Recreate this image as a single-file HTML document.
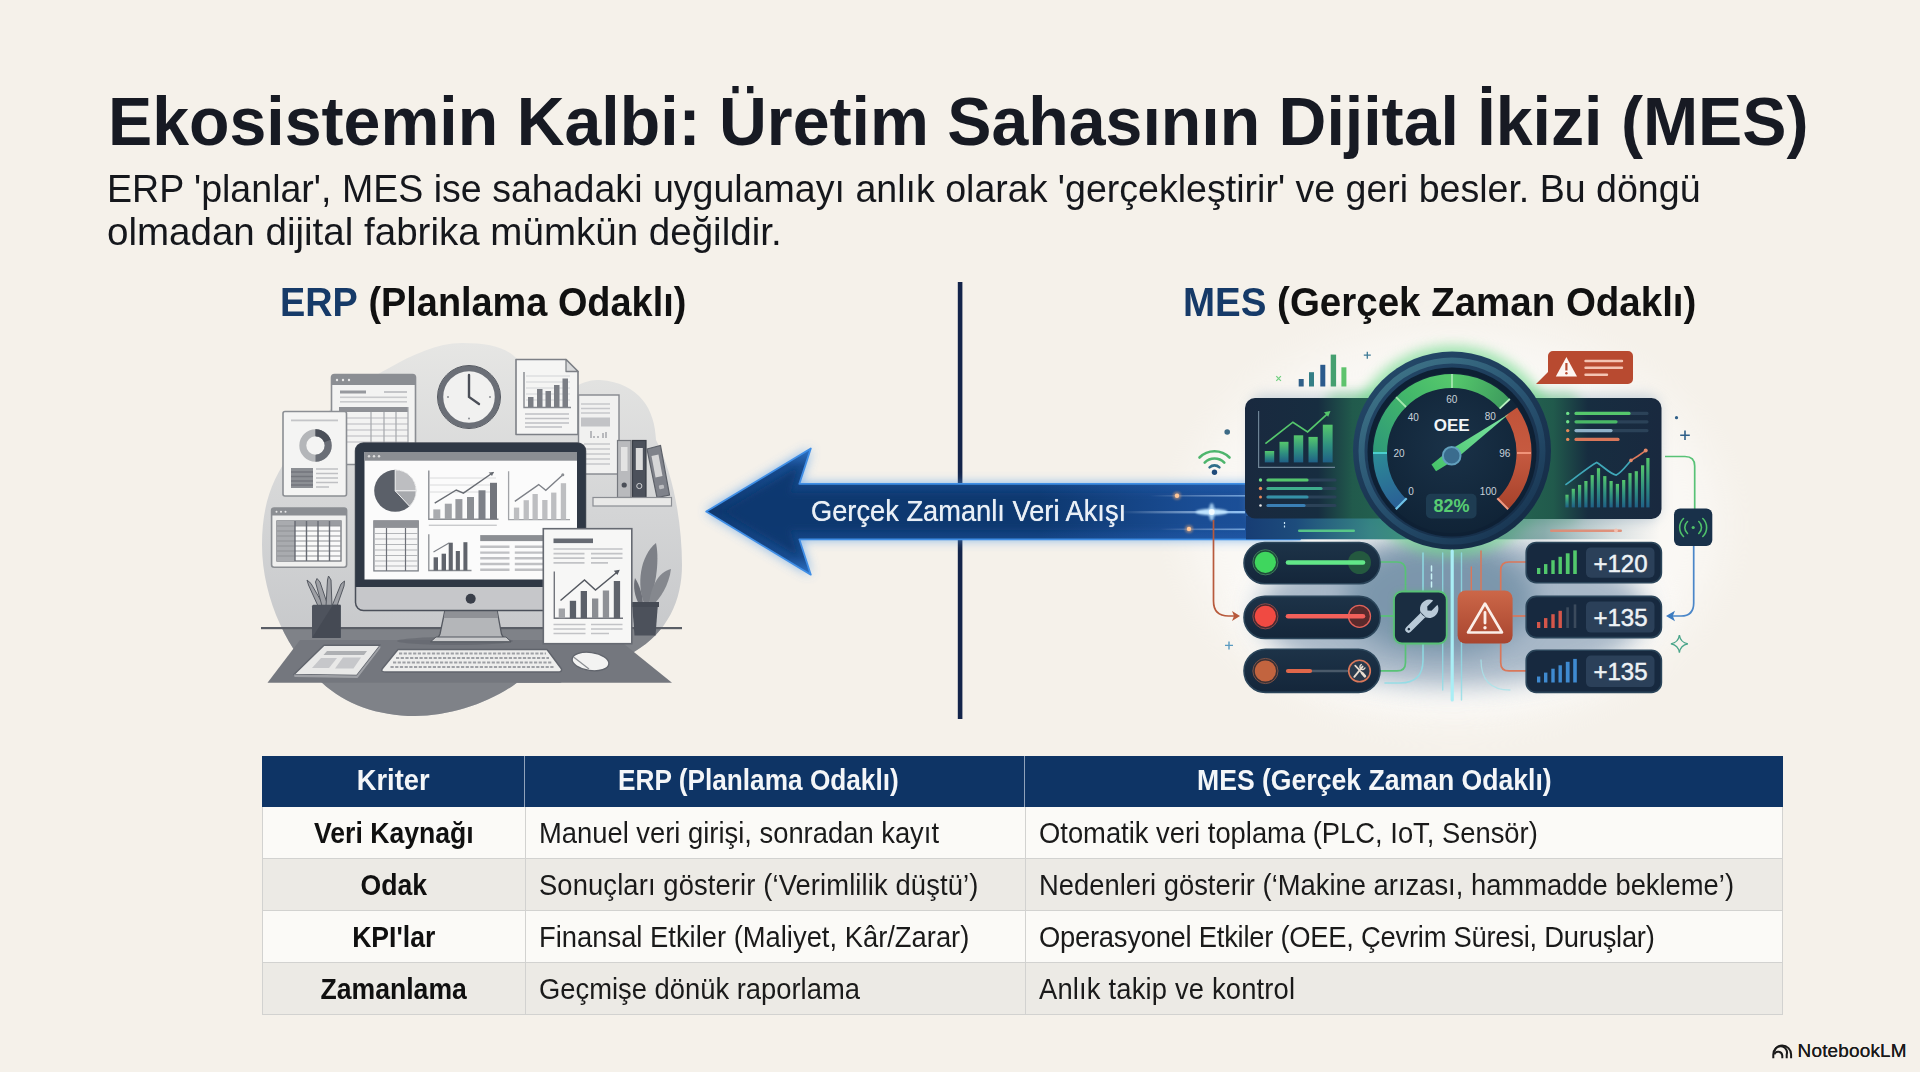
<!DOCTYPE html>
<html lang="tr">
<head>
<meta charset="utf-8">
<title>Ekosistemin Kalbi: Üretim Sahasının Dijital İkizi (MES)</title>
<style>
  html, body { margin: 0; padding: 0; }
  body {
    width: 1920px; height: 1072px; overflow: hidden; position: relative;
    background: #f5f1ea;
    font-family: "Liberation Sans", sans-serif;
    color: #14171f;
  }
  .abs { position: absolute; white-space: nowrap; transform-origin: 0 0; line-height: 1; }
  #title { left: 107.6px; top: 86.6px; font-size: 69px; font-weight: bold; color: #171a23; transform: scaleX(0.960); }
  #sub1, #sub2 { left: 107.2px; font-size: 38.2px; color: #15171c; transform: scaleX(0.9834); }
  #sub1 { top: 170.3px; }
  #sub2 { top: 213.3px; transform: scaleX(1.009); }
  .h2 { font-size: 40.7px; font-weight: bold; color: #111; top: 282px; transform: scaleX(0.931); }
  .h2 b { color: #163a68; }
  #h2a { left: 279.5px; }
  #h2b { left: 1183px; transform: scaleX(0.946); }
  #art { position: absolute; left: 0; top: 0; width: 1920px; height: 1072px; }
  #arrowtxt { left: 810.5px; top: 497.3px; font-size: 29px; color: #e9eff6; transform: scaleX(0.94); text-shadow: 0 0 0.7px #e9eff6; }

  #tbl { position: absolute; left: 262px; top: 756px; width: 1521px; height: 259px; }
  .row { position: absolute; left: 0; width: 1521px; box-sizing: border-box; border-bottom: 1.5px solid #d2d2d0; border-left: 1.5px solid #d2d2d0; border-right: 1.5px solid #d2d2d0; }
  .row.hd { top: 0; height: 51px; background: #0e3465; border: none; }
  .r1 { top: 51px; height: 52px; background: #fbfaf7; }
  .r2 { top: 103px; height: 52px; background: #eceae5; }
  .r3 { top: 155px; height: 52px; background: #fbfaf7; }
  .r4 { top: 207px; height: 52px; background: #eceae5; }
  .cell { position: absolute; top: 0; height: 100%; box-sizing: border-box; display: flex; align-items: center; white-space: nowrap; }
  .c1 { left: 0; width: 263px; justify-content: center; font-weight: bold; font-size: 28.6px; color: #101010; border-right: 1.5px solid #d2d2d0; }
  .c2 { left: 263px; width: 500px; padding-left: 13px; font-size: 28.6px; color: #1a1a1a; border-right: 1.5px solid #d2d2d0; }
  .c3 { left: 763px; width: 758px; padding-left: 13px; font-size: 28.6px; color: #1a1a1a; }
  .hd .cell { color: #f4f6f8; font-weight: bold; font-size: 28.6px; justify-content: center; padding-left: 0; border-right-color: #8fa2bb; }
  .hd .cell span { top: -1px; }
  .hd .c2 { justify-content: flex-start; padding-left: 93px; }
  .hd .c2 span, .hd .c3 span { transform-origin: 0 50%; }
  .c1 span, .hd .cell span { transform: scaleX(0.93); }
  .hd .c1 span { transform: scaleX(0.955); }
  .hd .c2 span { transform: scaleX(0.917); }
  .r1 .c2 span, .r2 .c2 span, .r3 .c2 span, .r4 .c2 span, .r1 .c3 span, .r2 .c3 span, .r3 .c3 span, .r4 .c3 span { transform: scaleX(0.957); transform-origin: 0 50%; }
  .hd .c3 { justify-content: flex-start; padding-left: 172px; }
  .cell span { display: inline-block; position: relative; top: 1px; }
  #nblm { left: 1797.6px; top: 1041.8px; font-size: 18.9px; color: #1a1a1a; letter-spacing: 0.2px; text-shadow: 0 0 0.6px #1a1a1a; }
</style>
</head>
<body>

<svg id="art" viewBox="0 0 1920 1072" width="1920" height="1072">
  <defs>
    <linearGradient id="shaftG" x1="0" y1="0" x2="0" y2="1">
      <stop offset="0" stop-color="#2f74c8"/>
      <stop offset="0.14" stop-color="#184c8f"/>
      <stop offset="0.5" stop-color="#0f3970"/>
      <stop offset="0.86" stop-color="#184c8f"/>
      <stop offset="1" stop-color="#2f74c8"/>
    </linearGradient>
    <filter id="blur3" x="-20%" y="-20%" width="140%" height="140%"><feGaussianBlur stdDeviation="3"/></filter>
    <filter id="blur6" x="-30%" y="-30%" width="160%" height="160%"><feGaussianBlur stdDeviation="6"/></filter>
    <filter id="blur20" x="-40%" y="-40%" width="180%" height="180%"><feGaussianBlur stdDeviation="22"/></filter>
    <filter id="blur12" x="-40%" y="-40%" width="180%" height="180%"><feGaussianBlur stdDeviation="12"/></filter>
    <filter id="blur1" x="-20%" y="-20%" width="140%" height="140%"><feGaussianBlur stdDeviation="1"/></filter>
  </defs>

  <!-- vertical divider -->
  <rect x="957.8" y="282" width="4.6" height="437" fill="#13244a"/>

  <!--ERP-START-->
  <g id="erp">
    <defs>
      <linearGradient id="blobG" x1="0" y1="0" x2="0" y2="1">
        <stop offset="0" stop-color="#e6e6e4"/>
        <stop offset="0.45" stop-color="#d4d5d6"/>
        <stop offset="1" stop-color="#bfc1c4"/>
      </linearGradient>
      <clipPath id="blobClip">
        <path d="M462 343 C490 343 508 348 518 360 L577 386 C585 381 592 380 600 380 C640 383 655 410 656 440 C672 470 682 520 682 565 C682 600 668 632 634 652 L560 682.7 L517 682.7 C490 703 450 716 415 716 C378 716 345 704 322 682.7 C290 655 262 600 262 545 C262 505 272 478 292 452 C315 420 352 387 389 368 C412 355 437 343 462 343 Z"/>
      </clipPath>
    </defs>
    <!-- blob -->
    <path d="M462 343 C490 343 508 348 518 360 L577 386 C585 381 592 380 600 380 C640 383 655 410 656 440 C672 470 682 520 682 565 C682 600 668 632 634 652 L560 682.7 L517 682.7 C490 703 450 716 415 716 C378 716 345 704 322 682.7 C290 655 262 600 262 545 C262 505 272 478 292 452 C315 420 352 387 389 368 C412 355 437 343 462 343 Z" fill="url(#blobG)"/>
    <g clip-path="url(#blobClip)">
      <rect x="250" y="628" width="450" height="100" fill="#7f8288"/>
    </g>
    <!-- desk -->
    <path d="M300 640 L619 640 L672 682.7 L267.5 682.7 Z" fill="#74777e"/>
    <rect x="261" y="627" width="421" height="2.2" fill="#5a5e66"/>

    <!-- browser window (back) -->
    <rect x="331.5" y="374.5" width="84" height="90" rx="3" fill="#f3f3f2" stroke="#8b8e93" stroke-width="1.6"/>
    <path d="M331.5 385 V377.5 a3 3 0 0 1 3 -3 H412.5 a3 3 0 0 1 3 3 V385 Z" fill="#8b8e93"/>
    <circle cx="337" cy="380" r="1.2" fill="#e8e8e8"/><circle cx="343" cy="380" r="1.2" fill="#e8e8e8"/><circle cx="349" cy="380" r="1.2" fill="#e8e8e8"/>
    <rect x="340" y="390.5" width="26" height="3" fill="#97999e"/>
    <rect x="384" y="391" width="23" height="2" fill="#c4c5c8"/>
    <rect x="340" y="396.5" width="67" height="1.6" fill="#c9cacc"/>
    <rect x="340" y="401" width="67" height="1.6" fill="#c9cacc"/>
    <rect x="339" y="407" width="69" height="5" fill="#8f9196"/>
    <g stroke="#b9babd" stroke-width="1.2">
      <path d="M339 418H408M339 424H408M339 430H408M339 436H408M339 442H408"/>
      <path d="M371 412V445M384 412V445M396 412V445M408 407V445" stroke="#a6a8ac"/>
    </g>

    <!-- donut doc -->
    <rect x="283" y="411.5" width="63.5" height="84.5" rx="2" fill="#f4f4f3" stroke="#8b8e93" stroke-width="1.6"/>
    <rect x="291" y="419.5" width="47" height="1.8" fill="#c4c5c8"/>
    <circle cx="315.5" cy="445.5" r="12.7" fill="none" stroke="#b4b6b9" stroke-width="7"/>
    <path d="M315.5 432.8 A12.7 12.7 0 0 1 315.5 458.2" fill="none" stroke="#6a6e76" stroke-width="7"/>
    <path d="M315.5 432.8 A12.7 12.7 0 0 1 327.4 441" fill="none" stroke="#4a4f58" stroke-width="7"/>
    <rect x="291" y="468" width="22" height="20" fill="#8c8f94"/>
    <g stroke="#a9abaf" stroke-width="1.3"><path d="M291 472H313M291 476.5H313M291 481H313M291 485H313" stroke="#73767c"/></g>
    <g stroke="#bfc0c3" stroke-width="1.7"><path d="M316 469H338M316 473.5H338M316 478H338M316 482.5H338M316 487H329"/></g>

    <!-- clock -->
    <circle cx="469" cy="397" r="31" fill="#d0d1d3" opacity="0.6"/>
    <circle cx="469" cy="397" r="28.5" fill="#f1f1f0" stroke="#6b6f77" stroke-width="5.5"/>
    <circle cx="469" cy="397" r="31.5" fill="none" stroke="#555961" stroke-width="1"/>
    <path d="M469 375 V397 L479 404" fill="none" stroke="#4b4f58" stroke-width="2.4" stroke-linecap="round"/>
    <g fill="#8b8e93"><circle cx="469" cy="418.5" r="1"/><circle cx="448" cy="397" r="1"/><circle cx="490" cy="397" r="1"/></g>

    <!-- bar chart doc -->
    <path d="M516 359.5 H566 L578 371.5 V434.5 H516 Z" fill="#f5f5f4" stroke="#7d8086" stroke-width="1.6" stroke-linejoin="round"/>
    <path d="M566 359.5 V371.5 H578 Z" fill="#d8d9da" stroke="#7d8086" stroke-width="1.3" stroke-linejoin="round"/>
    <g stroke="#d2d3d5" stroke-width="1.2"><path d="M526 376H570M526 382H570M526 388H570M526 394H570M526 400H570"/></g>
    <path d="M524 372V407.5H571" fill="none" stroke="#85888e" stroke-width="1.4"/>
    <g fill="#7b7e85">
      <rect x="528" y="397" width="5.5" height="10"/><rect x="537" y="389" width="5.5" height="18"/>
      <rect x="545.5" y="391" width="5.5" height="16"/><rect x="554" y="385" width="5.5" height="22"/>
      <rect x="562.5" y="378.5" width="5.5" height="28.5"/>
    </g>
    <g stroke="#bfc0c3" stroke-width="1.6"><path d="M525 414H569M525 418.5H569M525 423H569M525 427H562"/></g>

    <!-- doc behind -->
    <rect x="578.5" y="395" width="40.5" height="79" fill="#f1f1f0" stroke="#85888e" stroke-width="1.4"/>
    <g stroke="#c6c7ca" stroke-width="1.5"><path d="M581 404H610M581 408.5H610M581 413H610"/></g>
    <rect x="581" y="417.5" width="29" height="9" fill="#c2c3c6"/>
    <g stroke="#9a9ca1" stroke-width="1.3"><path d="M591 431v7M594 436v2M598 436v2M603 433v5M606 432v6"/></g>
    <g stroke="#c6c7ca" stroke-width="1.5"><path d="M584 444H610M584 449H610M584 454H610M584 459H610M584 464H610"/></g>

    <!-- shelf and binders -->
    <rect x="617.5" y="440.5" width="13.5" height="57" fill="#b9babd" stroke="#75787e" stroke-width="1.2"/>
    <rect x="621" y="447" width="6.5" height="24" fill="#e3e3e3"/>
    <circle cx="624.2" cy="485" r="2.6" fill="#4a4e57"/>
    <rect x="632.5" y="440.5" width="13.5" height="57" fill="#4c515b" stroke="#3a3e47" stroke-width="1.2"/>
    <rect x="635.8" y="448" width="7" height="22" fill="#dcdcdc"/>
    <circle cx="639.3" cy="486" r="2.6" fill="none" stroke="#cfd0d2" stroke-width="1"/>
    <path d="M647 449 L660.5 445.5 L669.5 495 L657 497.5 Z" fill="#7f828a" stroke="#5c6068" stroke-width="1.2"/>
    <path d="M651.5 456 L658.5 454.5 L662.5 476 L655.5 477.5 Z" fill="#d6d6d7"/>
    <rect x="659" y="485" width="5" height="4" rx="1" fill="#bcbdc0" transform="rotate(-10 661 487)"/>
    <rect x="593" y="497.5" width="78.5" height="8.5" fill="#e9e9e8" stroke="#8b8e93" stroke-width="1.2"/>

    <!-- spreadsheet window left -->
    <rect x="271.6" y="508" width="75" height="59.3" rx="2.5" fill="#f0f0ef" stroke="#8b8e93" stroke-width="1.6"/>
    <path d="M271.6 515.5 V510.5 a2.5 2.5 0 0 1 2.5 -2.5 H344.1 a2.5 2.5 0 0 1 2.5 2.5 V515.5 Z" fill="#8b8e93"/>
    <circle cx="276.5" cy="511.8" r="1" fill="#e8e8e8"/><circle cx="281" cy="511.8" r="1" fill="#e8e8e8"/><circle cx="285.5" cy="511.8" r="1" fill="#e8e8e8"/>
    <rect x="277" y="521" width="64" height="40" fill="#fafafa" stroke="#75787e" stroke-width="1.3"/>
    <rect x="277" y="521" width="18" height="40" fill="#a9abaf"/>
    <rect x="295" y="521" width="46" height="5" fill="#9a9ca1"/>
    <g stroke="#8f9196" stroke-width="1.1">
      <path d="M277 526H341M277 531H341M277 536H341M277 541H341M277 546H341M277 551H341M277 556H341"/>
      <path d="M295 521V561M306.5 521V561M318 521V561M329.5 521V561" stroke="#666a72" stroke-width="1.4"/>
    </g>

    <!-- pencil cup -->
    <g stroke="#555961" stroke-width="1" fill="#9ea0a5">
      <path d="M318 606 L308.5 585 L307 580 L311 583.5 L324 606 Z"/>
      <path d="M322 606 L315.5 582 L317 578.5 L320 582 L328 606 Z"/>
      <path d="M326 606 L327.5 580 L328.5 576 L331 580 L332 606 Z"/>
      <path d="M332 606 L341 584 L344.5 581 L344 586 L337 606 Z"/>
    </g>
    <rect x="312" y="604.7" width="28.7" height="33.3" rx="1.5" fill="#4e535d"/>
    <path d="M312 638 L333 604.7 H340.7 V638 Z" fill="#454a54"/>

    <!-- monitor -->
    <path d="M445 610 L440 634 Q438 640 430.7 641.7 H511 Q503.5 640 501.5 634 L497 610 Z" fill="#b4b6b9" stroke="#555961" stroke-width="1.3"/>
    <path d="M445 611 H497 L498 618 H443.7 Z" fill="#8f9196"/>
    <ellipse cx="455" cy="641" rx="58" ry="4" fill="#5f636a" opacity="0.55"/>
    <path d="M430.7 641.7 H511 L506 637 H436 Z" fill="#c9cacc" stroke="#555961" stroke-width="1"/>
    <rect x="355.5" y="443" width="230" height="167.5" rx="8" fill="#c6c7ca" stroke="#4a4f59" stroke-width="1.5"/>
    <path d="M355.5 587 V451 a8 8 0 0 1 8 -8 H577.5 a8 8 0 0 1 8 8 V587 Z" fill="#2f3845"/>
    <rect x="364.5" y="452" width="212.5" height="127.5" fill="#fbfbfb"/>
    <rect x="364.5" y="452" width="212.5" height="8.7" fill="#8b8e93"/>
    <circle cx="369" cy="456.3" r="1.2" fill="#dedede"/><circle cx="374" cy="456.3" r="1.2" fill="#dedede"/><circle cx="379" cy="456.3" r="1.2" fill="#dedede"/>
    <circle cx="470.7" cy="598.7" r="5" fill="#3a3f4a"/>

    <!-- pie -->
    <circle cx="395.2" cy="490.8" r="21" fill="#5b6069"/>
    <path d="M395.2 490.8 V469.8 A21 21 0 0 1 416.2 490.8 Z" fill="#bdbec1" stroke="#f2f2f2" stroke-width="1"/>
    <path d="M395.2 490.8 H416.2 A21 21 0 0 1 409.5 506.2 Z" fill="#a7a9ad" stroke="#f2f2f2" stroke-width="1"/>

    <!-- chart 1 -->
    <g stroke="#dadbdc" stroke-width="1"><path d="M430 478H496M430 485H496M430 492H496"/></g>
    <path d="M428.8 470.4 V519.2 H498.5" fill="none" stroke="#8b8e93" stroke-width="1.4"/>
    <rect x="433.3" y="509.4" width="7" height="9.8" fill="#a9abaf"/>
    <rect x="444.8" y="503.7" width="7" height="15.5" fill="#a1a3a7"/>
    <rect x="455.4" y="499.1" width="7" height="20.1" fill="#97999e"/>
    <rect x="467" y="497" width="7" height="22.2" fill="#8b8e93"/>
    <rect x="478.5" y="490.3" width="7" height="28.9" fill="#7d8087"/>
    <rect x="490" y="482.8" width="7" height="36.4" fill="#72757c"/>
    <path d="M434.7 503.2 L456.3 490 L463.4 493.1 L493.5 472.2" fill="none" stroke="#686c73" stroke-width="1.4"/>
    <path d="M493.9 471.9 l-5.2 0.6 l3.3 3.6 Z" fill="#686c73"/>
    <rect x="428.8" y="524.6" width="68" height="1.4" fill="#c9cacc"/>

    <!-- chart 2 -->
    <path d="M508.6 471.3 V519.7 H570" fill="none" stroke="#a1a3a7" stroke-width="1.3"/>
    <g fill="#bdbec1">
      <rect x="513.9" y="507.6" width="5.3" height="12"/><rect x="523.6" y="500.2" width="5.3" height="19.4"/>
      <rect x="532.5" y="494" width="5.3" height="25.6"/><rect x="542.2" y="500" width="5.3" height="19.6"/>
      <rect x="551.1" y="492.6" width="5.3" height="27"/><rect x="560.8" y="483.2" width="5.3" height="36.4"/>
    </g>
    <path d="M514.8 501.4 L538.7 484.6 L545.8 490.3 L562.6 474.9" fill="none" stroke="#7d8087" stroke-width="1.3"/>
    <circle cx="562.8" cy="474.7" r="1.5" fill="#8b8e93"/>

    <!-- small table -->
    <rect x="373.9" y="520.9" width="44.3" height="50" fill="#f6f6f6" stroke="#7d8087" stroke-width="1.3"/>
    <rect x="373.9" y="520.9" width="44.3" height="7" fill="#8f9196"/>
    <g stroke="#b4b6b9" stroke-width="1"><path d="M374 533.5H418M374 539H418M374 544.5H418M374 550H418M374 555.5H418M374 561H418M374 566H418"/></g>
    <g stroke="#6d7078" stroke-width="1.2"><path d="M386.5 528V571M405.5 528V571"/></g>

    <!-- chart 3 -->
    <path d="M428.8 534.2 V570.5 H471.5" fill="none" stroke="#8b8e93" stroke-width="1.3"/>
    <g fill="#60646c">
      <rect x="433.6" y="557.3" width="4.4" height="13.2"/><rect x="441.6" y="553.7" width="4.4" height="16.8"/>
      <rect x="448.7" y="542.7" width="4.1" height="27.8"/><rect x="455.8" y="551" width="4.1" height="19.5"/>
      <rect x="463.4" y="542.2" width="4" height="28.3"/>
    </g>
    <path d="M433.5 552 L449 543" fill="none" stroke="#7d8087" stroke-width="1.2"/>

    <!-- text block -->
    <rect x="480.2" y="535.1" width="63" height="6" fill="#8b8e93"/>
    <g stroke="#bfc0c3" stroke-width="2.4">
      <path d="M480.2 546.8H509.5M480.2 552.6H509.5M480.2 558.2H509.5M480.2 564H509.5M480.2 569.7H509.5"/>
      <path d="M514.8 546.8H543M514.8 552.6H543M514.8 558.2H543M514.8 564H543M514.8 569.7H543"/>
    </g>

    <!-- plant -->
    <path d="M645 606 C636 585 640 556 656 543 C660 562 655 590 648 606 Z" fill="#7d8087"/>
    <path d="M649 606 C650 588 658 572 671 569 C669 585 660 599 652 606 Z" fill="#85888e"/>
    <path d="M640 606 C634 596 633 586 635 578 C640 586 643 596 643 606 Z" fill="#6d7078"/>
    <path d="M632 603 H658 L655.5 635.5 H634.5 Z" fill="#4c515b"/>
    <rect x="631" y="602" width="28" height="5" fill="#454a54"/>

    <!-- front document -->
    <rect x="543.3" y="528.7" width="88.5" height="115" fill="#f7f7f6" stroke="#666a72" stroke-width="1.6"/>
    <rect x="553.5" y="538.5" width="39.5" height="4.6" fill="#666a72"/>
    <g stroke="#c2c3c6" stroke-width="1.7">
      <path d="M553.5 549H622.5M553.5 553.6H584.5M553.5 558.2H584.5M553.5 562.8H584.5M591 553.6H622.5M591 558.2H622.5M591 562.8H608"/>
      <path d="M553.5 624.5H585.5M553.5 629H585.5M553.5 633.5H585.5M591 624.5H622.5M591 629H622.5M591 633.5H609"/>
    </g>
    <path d="M554.3 571.5 V618.3 H623" fill="none" stroke="#72757c" stroke-width="1.4"/>
    <rect x="558.7" y="608.5" width="6.3" height="9.8" fill="#a1a3a7"/>
    <rect x="569.8" y="600.8" width="6.3" height="17.5" fill="#5b6069"/>
    <rect x="580.7" y="591" width="6.3" height="27.3" fill="#5b6069"/>
    <rect x="592" y="598.5" width="6.3" height="19.8" fill="#8b8e93"/>
    <rect x="602.8" y="590.5" width="6.3" height="27.8" fill="#8f9196"/>
    <rect x="613.8" y="581" width="6.3" height="37.3" fill="#60646c"/>
    <path d="M560.5 600.5 L584.5 580 L595.5 590 L618.5 571" fill="none" stroke="#555961" stroke-width="1.5"/>
    <path d="M619.8 569.8 l-6 1 l3.6 4.2 Z" fill="#555961"/>

    <!-- tablet -->
    <path d="M324 645.3 H380.4 L356.8 675.5 L294 674.5 Z" fill="#e9e9e8" stroke="#60646c" stroke-width="1.4" stroke-linejoin="round"/>
    <path d="M294 674.5 L356.8 675.5 L380.4 645.3 L380.4 648 L357.5 678 L294.5 677 Z" fill="#9ea0a5"/>
    <path d="M327 651 H367 L364 655 H323.5 Z" fill="#aeb0b3"/>
    <path d="M321 658 H337 L329 668 H312 Z" fill="#c6c7ca"/>
    <path d="M343 657.5 H361 L353.5 668.5 H335 Z" fill="#c6c7ca"/>

    <!-- keyboard -->
    <path d="M398 649.5 H547 L561.5 669 Q562 672 558 672 H386 Q380 672 382.5 668.5 Z" fill="#eeeeed" stroke="#60646c" stroke-width="1.4" stroke-linejoin="round"/>
    <g stroke="#9ea0a5" stroke-width="2.2" stroke-dasharray="3.2 1.5">
      <path d="M399 653.5H546M396 658H549M393 662.5H552M390.5 667H555"/>
    </g>

    <!-- mouse -->
    <ellipse cx="590.5" cy="661.5" rx="18.5" ry="9" fill="#f3f3f2" stroke="#60646c" stroke-width="1.3" transform="rotate(8 590.5 661.5)"/>
    <path d="M573.5 657 Q580 662 589 669" fill="none" stroke="#8b8e93" stroke-width="1.2"/>
  </g>
  <!--ERP-END-->
  <!-- soft white halo behind MES -->
  <ellipse cx="1455" cy="525" rx="265" ry="195" fill="#ffffff" opacity="0.5" filter="url(#blur20)"/>
  <ellipse cx="1452" cy="610" rx="215" ry="100" fill="#ffffff" opacity="0.4" filter="url(#blur12)"/>
  <!-- arrow -->
  <g id="arrow">
    <defs>
      <linearGradient id="brightR" x1="0" y1="0" x2="1" y2="0">
        <stop offset="0" stop-color="#2f6fd0" stop-opacity="0"/><stop offset="0.6" stop-color="#2f6fd0" stop-opacity="0.38"/><stop offset="1" stop-color="#2f6fd0" stop-opacity="0.45"/>
      </linearGradient>
      <linearGradient id="fadeR" x1="0" y1="0" x2="1" y2="0">
        <stop offset="0" stop-color="#fff" stop-opacity="0"/><stop offset="1" stop-color="#9fd0ff" stop-opacity="0.9"/>
      </linearGradient>
    </defs>
    <path d="M706.2 511.6 L810.8 448.5 L799.3 483.9 L1300 483.9 L1300 539.3 L799.3 539.3 L810.8 574.7 Z" fill="#5a9fe8" opacity="0.8" filter="url(#blur6)"/>
    <path d="M706.2 511.6 L810.8 448.5 L799.3 483.9 L1300 483.9 L1300 539.3 L799.3 539.3 L810.8 574.7 Z" fill="url(#shaftG)" stroke="#3f8ee6" stroke-width="1.8" stroke-linejoin="round"/>
    <path d="M724 511.6 L798 467 L790 493 L1300 493 L1300 530 L790 530 L798 556 Z" fill="#0f386f" opacity="0.9" filter="url(#blur3)"/>
    <rect x="1040" y="485" width="260" height="53.4" fill="url(#brightR)"/>
    <!-- streaks -->
    <rect x="1150" y="495" width="95" height="1.6" fill="url(#fadeR)" opacity="0.7"/>
    <rect x="1120" y="511" width="125" height="2.4" fill="url(#fadeR)"/>
    <rect x="1160" y="528.5" width="85" height="1.6" fill="url(#fadeR)" opacity="0.7"/>
    <ellipse cx="1211.7" cy="512" rx="16" ry="3.2" fill="#bfe4ff" filter="url(#blur1)"/>
    <ellipse cx="1211.7" cy="512" rx="3" ry="9" fill="#bfe4ff" opacity="0.8" filter="url(#blur1)"/>
    <circle cx="1211.7" cy="512" r="3" fill="#f2fbff"/>
    <circle cx="1177" cy="495.8" r="2.2" fill="#ffd9b8"/><circle cx="1177" cy="495.8" r="4" fill="#ffb070" opacity="0.45" filter="url(#blur1)"/>
    <circle cx="1189" cy="529" r="2.2" fill="#ffd9b8"/><circle cx="1189" cy="529" r="4" fill="#ffb070" opacity="0.45" filter="url(#blur1)"/>
  </g>
  <!--MES-START-->
  <g id="mes">
    <defs>
      <linearGradient id="panelL" x1="0" y1="0" x2="1" y2="0">
        <stop offset="0" stop-color="#19293f"/><stop offset="0.34" stop-color="#172d40"/><stop offset="0.5" stop-color="#215a4c"/><stop offset="1" stop-color="#2a7358"/>
      </linearGradient>
      <linearGradient id="panelR" x1="1" y1="0" x2="0" y2="0">
        <stop offset="0" stop-color="#19293f"/><stop offset="0.34" stop-color="#172d40"/><stop offset="0.5" stop-color="#215a4c"/><stop offset="1" stop-color="#2a7358"/>
      </linearGradient>
      <linearGradient id="gb" x1="0" y1="0" x2="0" y2="1">
        <stop offset="0" stop-color="#55c76c"/><stop offset="0.55" stop-color="#2f8f80"/><stop offset="1" stop-color="#1f5f86"/>
      </linearGradient>
      <linearGradient id="ringG" x1="0.2" y1="0" x2="0.8" y2="1">
        <stop offset="0" stop-color="#24496a"/><stop offset="0.5" stop-color="#1b3754"/><stop offset="1" stop-color="#142b45"/>
      </linearGradient>
      <radialGradient id="dialG" cx="0.5" cy="0.45" r="0.6">
        <stop offset="0" stop-color="#1a3248"/><stop offset="1" stop-color="#0f2235"/>
      </radialGradient>
      <linearGradient id="ringHi" x1="0.15" y1="0" x2="0.85" y2="1">
        <stop offset="0" stop-color="#3f7588"/><stop offset="0.45" stop-color="#2a5573"/><stop offset="1" stop-color="#173350"/>
      </linearGradient>
      <linearGradient id="blueArc" gradientUnits="userSpaceOnUse" x1="1400" y1="506" x2="1380" y2="453">
        <stop offset="0" stop-color="#2a5f96"/><stop offset="1" stop-color="#2c8a96"/>
      </linearGradient>
      <linearGradient id="greenArcL" gradientUnits="userSpaceOnUse" x1="1380" y1="453" x2="1452" y2="381">
        <stop offset="0" stop-color="#2f9a78"/><stop offset="0.6" stop-color="#43b76a"/><stop offset="1" stop-color="#55c86c"/>
      </linearGradient>
      <linearGradient id="greenArcR" gradientUnits="userSpaceOnUse" x1="1452" y1="381" x2="1503" y2="402">
        <stop offset="0" stop-color="#55c86c"/><stop offset="1" stop-color="#3f9e5e"/>
      </linearGradient>
      <linearGradient id="redArc" gradientUnits="userSpaceOnUse" x1="1515" y1="400" x2="1515" y2="506">
        <stop offset="0" stop-color="#c05238"/><stop offset="0.5" stop-color="#c65a40"/><stop offset="1" stop-color="#a8432c"/>
      </linearGradient>
      <linearGradient id="needleG" gradientUnits="userSpaceOnUse" x1="1430" y1="468" x2="1509" y2="414">
        <stop offset="0" stop-color="#45c268"/><stop offset="1" stop-color="#7fe6a6"/>
      </linearGradient>
      <linearGradient id="pillG" x1="0" y1="0" x2="0" y2="1">
        <stop offset="0" stop-color="#1d3348"/><stop offset="1" stop-color="#14263a"/>
      </linearGradient>
      <linearGradient id="alertG" x1="0" y1="0" x2="0" y2="1">
        <stop offset="0" stop-color="#cc6748"/><stop offset="1" stop-color="#a8452f"/>
      </linearGradient>
      <linearGradient id="streamG" x1="0" y1="0" x2="1" y2="0">
        <stop offset="0" stop-color="#173d74" stop-opacity="1"/><stop offset="0.12" stop-color="#1d4c7c" stop-opacity="1"/><stop offset="0.3" stop-color="#2f7f80" stop-opacity="0.95"/><stop offset="0.5" stop-color="#3f9a70" stop-opacity="0.9"/><stop offset="0.72" stop-color="#5f8f8f" stop-opacity="0.7"/><stop offset="1" stop-color="#8da3b8" stop-opacity="0"/>
      </linearGradient>
    </defs>

    <!-- halos -->
    <ellipse cx="1452" cy="612" rx="195" ry="75" fill="#8da3b8" opacity="0.75" filter="url(#blur12)"/>
    <ellipse cx="1440" cy="598" rx="95" ry="58" fill="#5f819a" opacity="0.6" filter="url(#blur12)"/>
    <rect x="1250" y="394" width="410" height="128" rx="14" fill="#9fb3c4" opacity="0.5" filter="url(#blur6)"/>
    <rect x="1325" y="392" width="255" height="132" rx="14" fill="#6fcf8a" opacity="0.5" filter="url(#blur6)"/>
    <circle cx="1452" cy="451" r="106" fill="#6fd98c" opacity="0.62" filter="url(#blur6)"/>

    <!-- stream continuing from arrow under panel -->
    <rect x="1246" y="516" width="414" height="23.3" fill="url(#streamG)"/>
    <rect x="1298" y="529.5" width="57" height="2.6" rx="1.3" fill="#5fd78a" opacity="0.85"/>
    <rect x="1550" y="529.5" width="72" height="2.6" rx="1.3" fill="#e08a72" opacity="0.9"/>
    <circle cx="1616" cy="530.5" r="2" fill="#f3c0b0"/>
    <path d="M1284.5 522 V528" stroke="#c9e6f6" stroke-width="1.2" stroke-dasharray="2 1.6"/>

    <!-- panels -->
    <rect x="1245" y="398" width="215" height="120.5" rx="10" fill="url(#panelL)"/>
    <rect x="1445" y="398" width="216.5" height="121" rx="10" fill="url(#panelR)"/>

    <!-- left panel chart -->
    <path d="M1258.6 411 V467.3 H1335" fill="none" stroke="#6e8496" stroke-width="1.2"/>
    <g fill="url(#gb)">
      <rect x="1264.8" y="451" width="9.4" height="11.4"/><rect x="1279.5" y="441.8" width="9" height="20.6"/>
      <rect x="1293.8" y="435.3" width="9.4" height="27.1"/><rect x="1308.5" y="436.9" width="9.2" height="25.5"/>
      <rect x="1322.8" y="424.7" width="9.8" height="37.7"/>
    </g>
    <path d="M1265.4 443.7 L1292.9 422.2 L1307.6 432 L1328 413.4" fill="none" stroke="#55c76c" stroke-width="1.7"/>
    <path d="M1330.5 411 l-6.5 1.2 l4.2 4.6 Z" fill="#55c76c"/>
    <g stroke-width="3.2" stroke-linecap="round">
      <path d="M1268 480H1335M1268 488.5H1335M1268 497H1335M1268 505.5H1335" stroke="#2b4258"/>
      <path d="M1268 480H1307" stroke="#55c76c"/>
      <path d="M1268 488.5H1321" stroke="#3fae8c"/>
      <path d="M1268 497H1307" stroke="#3591a8"/>
      <path d="M1268 505.5H1304" stroke="#3a7fb5"/>
    </g>
    <circle cx="1260.5" cy="480" r="1.7" fill="#6fe08a"/><circle cx="1260.5" cy="488.5" r="1.7" fill="#e58a5a"/>
    <circle cx="1260.5" cy="497" r="1.5" fill="#e58a5a"/><circle cx="1260.5" cy="505.5" r="1.3" fill="#e8e8e8"/>

    <!-- right panel content -->
    <g stroke-width="3.2" stroke-linecap="round">
      <path d="M1576 413.4H1647M1576 421.8H1647M1576 430.6H1647" stroke="#2b4258"/>
      <path d="M1576 413.4H1629" stroke="#55c76c"/>
      <path d="M1576 421.8H1616" stroke="#49b866"/>
      <path d="M1576 430.6H1611" stroke="#8fb1c8"/>
      <path d="M1576 439.4H1618" stroke="#d9775a"/>
    </g>
    <circle cx="1567.7" cy="413.4" r="1.7" fill="#6fe08a"/><circle cx="1567.7" cy="421.8" r="1.7" fill="#6fe08a"/>
    <circle cx="1567.7" cy="430.6" r="1.7" fill="#e58a5a"/><circle cx="1567.7" cy="439.4" r="1.7" fill="#e58a5a"/>
    <g fill="url(#gb)">
      <rect x="1565.4" y="494.7" width="3.2" height="12.7"/><rect x="1571.7" y="488.8" width="3.2" height="18.6"/>
      <rect x="1578" y="484.9" width="3.2" height="22.5"/><rect x="1584.3" y="481" width="3.2" height="26.4"/>
      <rect x="1590.6" y="475.1" width="3.2" height="32.3"/><rect x="1596.9" y="468.2" width="3.2" height="39.2"/>
      <rect x="1603.2" y="476.1" width="3.2" height="31.3"/><rect x="1609.5" y="481" width="3.2" height="26.4"/>
      <rect x="1615.8" y="483.9" width="3.2" height="23.5"/><rect x="1622.1" y="480" width="3.2" height="27.4"/>
      <rect x="1628.4" y="473.1" width="3.2" height="34.3"/><rect x="1634.7" y="471.2" width="3.2" height="36.2"/>
      <rect x="1641" y="465.3" width="3.2" height="42.1"/><rect x="1646.3" y="458" width="3.2" height="49.4"/>
    </g>
    <path d="M1565.4 484.9 C1578 476 1588 467 1596.7 462.4 C1603 466 1610 474 1616.3 475.1 C1622 472 1626 466 1631 460.4" fill="none" stroke="#3fa7b8" stroke-width="1.7"/>
    <path d="M1631 460.4 L1638 456 L1645.7 450.6" fill="none" stroke="#e07a5c" stroke-width="1.6"/>
    <circle cx="1631" cy="460.4" r="1.8" fill="#e58a6a"/><circle cx="1645.7" cy="450.6" r="2" fill="#e58a6a"/>

    <!-- gauge -->
    <circle cx="1452" cy="450.5" r="99" fill="url(#ringG)"/>
    <circle cx="1452" cy="451" r="90.5" fill="none" stroke="url(#ringHi)" stroke-width="6"/>
    <circle cx="1452" cy="452" r="84.5" fill="#0e2034"/>
    <circle cx="1452" cy="453" r="80" fill="url(#dialG)"/>
    <!-- arc band r=72 -->
    <path d="M1401.1 503.9 A72 72 0 0 1 1380 453" fill="none" stroke="url(#blueArc)" stroke-width="14"/>
    <path d="M1380 453 A72 72 0 0 1 1452 381" fill="none" stroke="url(#greenArcL)" stroke-width="14"/>
    <path d="M1452 381 A72 72 0 0 1 1504.7 403.9" fill="none" stroke="url(#greenArcR)" stroke-width="14"/>
    <path d="M1511 411.7 A72 72 0 0 1 1503.6 503.2" fill="none" stroke="url(#redArc)" stroke-width="15"/>
    <g stroke-width="1.8" stroke-linecap="butt">
      <path d="M1373 453 H1387" stroke="#4fd6d6"/>
      <path d="M1396.1 397.1 L1406 407" stroke="#a4e8ae"/>
      <path d="M1452 374 V388" stroke="#a4e8ae"/>
      <path d="M1509.9 399 L1499.6 408.6" stroke="#b9f0c0"/>
      <path d="M1517 453 H1531" stroke="#f59a80"/>
      <path d="M1497.3 498.3 L1508.2 509.2" stroke="#f59a80" stroke-width="2.2"/>
      <path d="M1406.7 498.3 L1395.8 509.2" stroke="#6fc3e8" stroke-width="2.2"/>
    </g>
    <!-- needle -->
    <path d="M1431.5 464.6 L1436 471.2 L1455.6 459.3 L1509.2 413.7 L1448.3 451 Z" fill="url(#needleG)"/>
    <circle cx="1451.7" cy="455.8" r="8.8" fill="#3a6c8e" stroke="#62a0bd" stroke-width="2"/>
    <rect x="1426" y="493.8" width="50.5" height="24.6" rx="5" fill="#1e3c52"/>
    <g font-family="'Liberation Sans', sans-serif" text-anchor="middle">
      <text x="1451.7" y="431.3" font-size="17" font-weight="bold" fill="#f2f5f7">OEE</text>
      <text x="1451.5" y="512.3" font-size="18" font-weight="bold" fill="#58cc72">82%</text>
      <g font-size="10" fill="#c8d2da">
        <text x="1451.7" y="403">60</text>
        <text x="1413.3" y="420.8">40</text>
        <text x="1399" y="457.4">20</text>
        <text x="1411" y="495.3">0</text>
        <text x="1490.3" y="420.4">80</text>
        <text x="1504.7" y="457.4">96</text>
        <text x="1488.2" y="495.3">100</text>
      </g>
    </g>

    <!-- cyan vertical lines under gauge -->
    <g fill="none" stroke-linecap="round">
      <path d="M1423 553 V660 Q1423 683 1400 683 H1385" stroke="#8fdde6" stroke-width="1.6" opacity="0.9"/>
      <path d="M1442.7 553 V690" stroke="#8fdde6" stroke-width="1.4" opacity="0.8"/>
      <path d="M1452.2 551 V700" stroke="#a9eef5" stroke-width="3.2"/>
      <path d="M1461.5 553 V700" stroke="#8fdde6" stroke-width="1.4" opacity="0.8"/>
      <path d="M1431.5 566 V588" stroke="#c9f3f6" stroke-width="1.5" stroke-dasharray="5 3"/>
      <path d="M1471.3 567 V590" stroke="#d9775a" stroke-width="1.4"/>
      <path d="M1481 551 V590.5" stroke="#d9775a" stroke-width="1.5"/>
      <path d="M1481 660 Q1481 690 1510 690" stroke="#a8e3ea" stroke-width="1.3" opacity="0.8"/>
    </g>

    <!-- green connectors -->
    <g fill="none" stroke="#58c276" stroke-width="1.7">
      <path d="M1380 562 H1397 Q1405.5 562 1405.5 570.5 V591.5"/>
      <path d="M1380 616 H1394"/>
      <path d="M1380 670.9 H1397 Q1405.5 670.9 1405.5 662.4 V643.4"/>
    </g>
    <!-- red connectors -->
    <g fill="none" stroke="#d9775a" stroke-width="1.7">
      <path d="M1526 562 H1509 Q1500.7 562 1500.7 570.5 V590.5"/>
      <path d="M1512.5 616 H1526"/>
      <path d="M1526 670.9 H1509 Q1500.7 670.9 1500.7 662.4 V643.4"/>
    </g>

    <!-- pills -->
    <g>
      <rect x="1244" y="542.5" width="136" height="41.2" rx="20.6" fill="url(#pillG)" stroke="#2b455a" stroke-width="1.6"/>
      <rect x="1244" y="596.4" width="136" height="42.1" rx="21" fill="url(#pillG)" stroke="#2b455a" stroke-width="1.6"/>
      <rect x="1244" y="649.3" width="136" height="43.1" rx="21.5" fill="url(#pillG)" stroke="#2b455a" stroke-width="1.6"/>
      <!-- pill 1 -->
      <circle cx="1359.5" cy="562.5" r="11.5" fill="#24593f"/>
      <path d="M1288 562.5 H1363" stroke="#4fe07a" stroke-width="8" stroke-linecap="round" opacity="0.45" filter="url(#blur3)"/>
      <path d="M1288 562.5 H1363" stroke="#62e688" stroke-width="4.6" stroke-linecap="round"/>
      <circle cx="1265.4" cy="562.3" r="12.6" fill="#1f4a3a" stroke="#3f7a5c" stroke-width="1"/>
      <circle cx="1265.4" cy="562.3" r="10.6" fill="#3fd65e"/>
      <!-- pill 2 -->
      <circle cx="1359.5" cy="616.3" r="11" fill="#5a2a2c" stroke="#e0625a" stroke-width="1.3"/>
      <path d="M1288 616.3 H1363" stroke="#ff5a52" stroke-width="8" stroke-linecap="round" opacity="0.45" filter="url(#blur3)"/>
      <path d="M1288 616.3 H1363" stroke="#f2605a" stroke-width="4.6" stroke-linecap="round"/>
      <circle cx="1265.4" cy="616.3" r="12.6" fill="#4a2a30" stroke="#8a4a4a" stroke-width="1"/>
      <circle cx="1265.4" cy="616.3" r="10.6" fill="#f04a42"/>
      <!-- pill 3 -->
      <path d="M1288 671 H1347" stroke="#4a5a6a" stroke-width="2.6" stroke-linecap="round"/>
      <path d="M1288 671 H1310" stroke="#e0674a" stroke-width="4.2" stroke-linecap="round"/>
      <circle cx="1359.5" cy="671" r="10.8" fill="#2a3a4c" stroke="#d9775a" stroke-width="1.6"/>
      <path d="M1354.3 676.8 L1362.6 666.6" stroke="#e8dcd0" stroke-width="1.9" stroke-linecap="round" fill="none"/>
      <path d="M1361.3 664.6 a2.6 2.6 0 1 0 3.6 3.4" stroke="#e8dcd0" stroke-width="1.5" fill="none" stroke-linecap="round"/>
      <path d="M1355.2 665.6 L1358.8 669.4 M1360.6 671.4 L1364.6 676" stroke="#e8dcd0" stroke-width="1.7" stroke-linecap="round" fill="none"/>
      <path d="M1362.2 673.2 L1364.8 676.2" stroke="#e8dcd0" stroke-width="2.8" stroke-linecap="round" fill="none"/>
      <circle cx="1265.4" cy="671" r="12.6" fill="#3a2f33" stroke="#7a5248" stroke-width="1"/>
      <circle cx="1265.4" cy="671" r="10.6" fill="#c2643f"/>
    </g>

    <!-- wrench box -->
    <rect x="1394" y="591.5" width="52.7" height="52" rx="8" fill="#4fc06a" opacity="0.5" filter="url(#blur3)"/>
    <rect x="1394" y="591.5" width="52.7" height="52" rx="8" fill="#1a2d41" stroke="#58c276" stroke-width="1.8"/>
    <g transform="translate(1420.5 617.5) rotate(45)">
      <path d="M-3 -21 a9.2 9.2 0 1 0 6 0 v8.5 l-3 2.6 l-3 -2.6 Z M-3.2 -4 h6.4 v21 a3.2 3.2 0 0 1 -6.4 0 Z" fill="#b9cad8"/>
      <circle cx="0" cy="16.5" r="1.3" fill="#1a2d41"/>
    </g>

    <!-- alert box -->
    <rect x="1457.6" y="590.5" width="55" height="53" rx="8" fill="url(#alertG)"/>
    <path d="M1485 603.5 L1502 632.5 H1468 Z" fill="none" stroke="#fbeee8" stroke-width="2.6" stroke-linejoin="round"/>
    <path d="M1485 612.5 V623" stroke="#fbeee8" stroke-width="2.8" stroke-linecap="round"/>
    <circle cx="1485" cy="627.8" r="1.7" fill="#fbeee8"/>

    <!-- stat boxes -->
    <g>
      <rect x="1526.2" y="542.5" width="135.2" height="40.2" rx="10" fill="#17293f" stroke="#2b455a" stroke-width="1.6"/>
      <rect x="1526.2" y="596.4" width="135.2" height="41.2" rx="10" fill="#17293f" stroke="#2b455a" stroke-width="1.6"/>
      <rect x="1526.2" y="650.3" width="135.2" height="42.1" rx="10" fill="#17293f" stroke="#2b455a" stroke-width="1.6"/>
      <rect x="1586" y="547.4" width="68.5" height="30.4" rx="5" fill="#2b4059"/>
      <rect x="1586" y="601.4" width="68.5" height="31.2" rx="5" fill="#2b4059"/>
      <rect x="1586" y="655.5" width="68.5" height="31.6" rx="5" fill="#2b4059"/>
      <g fill="#52c96c">
        <rect x="1537" y="568" width="3.3" height="6"/><rect x="1544" y="564.1" width="3.4" height="9.9"/><rect x="1551.3" y="560.2" width="3.4" height="13.8"/>
        <rect x="1558.5" y="556.8" width="3.4" height="17.2"/><rect x="1565.8" y="553.3" width="3.8" height="20.7"/><rect x="1573.2" y="550.4" width="3.6" height="23.6"/>
      </g>
      <g fill="#d4564a">
        <rect x="1537" y="622" width="3.3" height="6"/><rect x="1544" y="618.1" width="3.4" height="9.9"/><rect x="1551.3" y="614.2" width="3.4" height="13.8"/>
        <rect x="1558.5" y="610.8" width="3.4" height="17.2"/>
      </g>
      <g fill="#3b4a5c"><rect x="1566.3" y="607.3" width="2.6" height="20.7"/><rect x="1573.7" y="604.4" width="2.6" height="23.6"/></g>
      <g fill="#3f8ad0">
        <rect x="1537" y="676.5" width="3.3" height="6"/><rect x="1544" y="672.6" width="3.4" height="9.9"/><rect x="1551.3" y="668.7" width="3.4" height="13.8"/>
        <rect x="1558.5" y="665.3" width="3.4" height="17.2"/><rect x="1565.8" y="661.8" width="3.8" height="20.7"/><rect x="1573.2" y="658.9" width="3.6" height="23.6"/>
      </g>
      <g font-family="'Liberation Sans', sans-serif" font-size="24" fill="#eef2f5" stroke="#eef2f5" stroke-width="0.5" text-anchor="middle">
        <text x="1620.5" y="572">+120</text>
        <text x="1620.5" y="626">+135</text>
        <text x="1620.5" y="680">+135</text>
      </g>
    </g>

    <!-- alert bubble -->
    <path d="M1553 351 H1628 a5 5 0 0 1 5 5 V379 a5 5 0 0 1 -5 5 H1536 L1548 372 V356 a5 5 0 0 1 5 -5 Z" fill="#b84a30"/>
    <path d="M1566.4 357 L1577 376.5 H1555.8 Z" fill="#fdf5f1"/>
    <path d="M1566.4 363 V370.5" stroke="#b84a30" stroke-width="2.2"/><circle cx="1566.4" cy="373.3" r="1.2" fill="#b84a30"/>
    <g stroke="#f4c4b3" stroke-width="2.4" stroke-linecap="round"><path d="M1585.5 361H1622M1585.5 367.8H1622M1585.5 374.8H1607"/></g>

    <!-- small bars top-left -->
    <rect x="1298.7" y="379" width="5" height="7.5" fill="#2f5f88"/>
    <rect x="1309" y="372.2" width="5" height="14.3" fill="#357f86"/>
    <rect x="1320.3" y="364.8" width="5" height="21.7" fill="#2a5a8c"/>
    <rect x="1330.7" y="354.6" width="5.4" height="31.9" fill="#45a070"/>
    <rect x="1341.4" y="367.3" width="5" height="19.2" fill="#5ec36d"/>
    <path d="M1367.3 351.7 v7 M1363.8 355.2 h7" stroke="#3d7a96" stroke-width="1.3"/>
    <path d="M1276.3 376.2 l4.6 4.6 M1280.9 376.2 l-4.6 4.6" stroke="#6fcf7f" stroke-width="1.2"/>
    <circle cx="1227.2" cy="432" r="2.8" fill="#3c6a85"/>

    <!-- wifi -->
    <g fill="none" stroke="#4db56c" stroke-width="2.6" stroke-linecap="round">
      <path d="M1199.5 457.5 A21 21 0 0 1 1229.5 457.5"/>
      <path d="M1204.7 462.6 A13.8 13.8 0 0 1 1224.3 462.6"/>
      <path d="M1209.6 467.4 A7 7 0 0 1 1219.4 467.4" stroke="#2f6f8a"/>
    </g>
    <circle cx="1214.5" cy="472.3" r="2.7" fill="#1f4a7a"/>

    <!-- red arrow left -->
    <path d="M1213.5 520 V601 Q1213.5 616 1228.5 616 H1237" fill="none" stroke="#b85a3c" stroke-width="1.7"/>
    <path d="M1240 616 l-8 -5 l2 5 l-2 5 Z" fill="#b85a3c"/>
    <path d="M1229 641.4 v8 M1225 645.4 h8" stroke="#5a9ac0" stroke-width="1.4"/>

    <!-- right side connectors -->
    <path d="M1665 456.5 H1685 Q1694.7 456.5 1694.7 466 V509" fill="none" stroke="#58c276" stroke-width="1.7"/>
    <rect x="1674" y="508.4" width="38.3" height="37.5" rx="6" fill="#19314a"/>
    <g fill="none" stroke="#4fc06a" stroke-width="1.6" stroke-linecap="round">
      <path d="M1687.5 521.5 A8 8 0 0 0 1687.5 533.5"/><path d="M1698.8 521.5 A8 8 0 0 1 1698.8 533.5"/>
      <path d="M1683.5 518.5 A12.5 12.5 0 0 0 1683.5 536.5"/><path d="M1702.8 518.5 A12.5 12.5 0 0 1 1702.8 536.5"/>
    </g>
    <circle cx="1693.2" cy="527.5" r="1.6" fill="#4fc06a"/>
    <path d="M1693.7 546 V603 Q1693.7 616 1681 616 H1672" fill="none" stroke="#4a86c8" stroke-width="1.7"/>
    <path d="M1666 616 l9 -5.2 l-2.2 5.2 l2.2 5.2 Z" fill="#3d7cc0"/>
    <path d="M1685 430.5 v9.6 M1680.2 435.3 h9.6" stroke="#2f5f88" stroke-width="1.6"/>
    <circle cx="1676.5" cy="417.7" r="1.6" fill="#2f5f88"/>
    <path d="M1679.4 635 q1 7.5 8.5 8.8 q-7.5 1.3 -8.5 8.8 q-1 -7.5 -8.5 -8.8 q7.500 -1.300 8.500 -8.800 Z" fill="none" stroke="#4aa58a" stroke-width="1.3"/>
  </g>
  <!--MES-END-->

</svg>

<div id="title" class="abs">Ekosistemin Kalbi: Üretim Sahasının Dijital İkizi (MES)</div>
<div id="sub1" class="abs">ERP 'planlar', MES ise sahadaki uygulamayı anlık olarak 'gerçekleştirir' ve geri besler. Bu döngü</div>
<div id="sub2" class="abs">olmadan dijital fabrika mümkün değildir.</div>
<div id="h2a" class="abs h2"><b>ERP</b> (Planlama Odaklı)</div>
<div id="h2b" class="abs h2"><b>MES</b> (Gerçek Zaman Odaklı)</div>
<div id="arrowtxt" class="abs">Gerçek Zamanlı Veri Akışı</div>

<div id="tbl">
  <div class="row hd">
    <div class="cell c1"><span>Kriter</span></div>
    <div class="cell c2"><span>ERP (Planlama Odaklı)</span></div>
    <div class="cell c3"><span>MES (Gerçek Zaman Odaklı)</span></div>
  </div>
  <div class="row r1">
    <div class="cell c1"><span>Veri Kaynağı</span></div>
    <div class="cell c2"><span>Manuel veri girişi, sonradan kayıt</span></div>
    <div class="cell c3"><span>Otomatik veri toplama (PLC, IoT, Sensör)</span></div>
  </div>
  <div class="row r2">
    <div class="cell c1"><span>Odak</span></div>
    <div class="cell c2"><span style="letter-spacing:0.12px">Sonuçları gösterir (‘Verimlilik düştü’)</span></div>
    <div class="cell c3"><span>Nedenleri gösterir (‘Makine arızası, hammadde bekleme’)</span></div>
  </div>
  <div class="row r3">
    <div class="cell c1"><span>KPI'lar</span></div>
    <div class="cell c2"><span>Finansal Etkiler (Maliyet, Kâr/Zarar)</span></div>
    <div class="cell c3"><span style="letter-spacing:-0.26px">Operasyonel Etkiler (OEE, Çevrim Süresi, Duruşlar)</span></div>
  </div>
  <div class="row r4">
    <div class="cell c1"><span>Zamanlama</span></div>
    <div class="cell c2"><span>Geçmişe dönük raporlama</span></div>
    <div class="cell c3"><span style="letter-spacing:0.18px">Anlık takip ve kontrol</span></div>
  </div>
</div>

<svg class="abs" style="left:1770px;top:1042px" width="24" height="18" viewBox="1770 1042 24 18">
  <g fill="none" stroke="#1a1a1a" stroke-width="2">
    <path d="M1773.3 1058.2 V1054.4 A8.9 8.9 0 0 1 1791.1 1054.4 V1058.2"/>
    <path d="M1774.6 1050.6 A6.3 6.3 0 0 1 1786.7 1054.6 V1058.2"/>
    <path d="M1774.2 1054.4 A4.2 4.2 0 0 1 1782.3 1055.6 V1058.2"/>
  </g>
</svg>
<div id="nblm" class="abs">NotebookLM</div>

</body>
</html>
